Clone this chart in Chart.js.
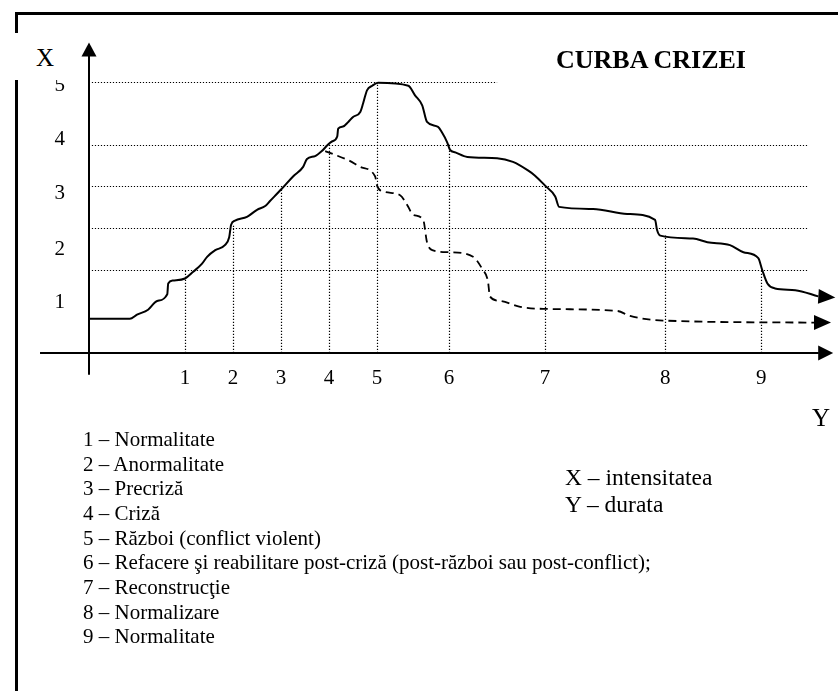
<!DOCTYPE html>
<html>
<head>
<meta charset="utf-8">
<script src="https://cdn.jsdelivr.net/npm/chart.js@4.4.1/dist/chart.umd.min.js"></script>
<style>
  body { margin: 0; background: #fff; }
  #wrap { position: relative; width: 838px; height: 691px; overflow: hidden; background: #fff;
          font-family: "Liberation Serif", "Times New Roman", serif; color: #000; }
  #frame { position: absolute; left: 15px; top: 12px; width: 840px; height: 700px;
           border-top: 3px solid #000; border-left: 3px solid #000; }
  canvas { position: absolute; left: 0; top: 0; }
  .txt { position: absolute; white-space: nowrap; }
  #xbox { left: 14px; top: 33px; width: 66px; height: 47px; background: #fff; }
  #xbox span { position: absolute; left: 22px; top: 12px; font-size: 25px; line-height: 25px; }
  #ylab { left: 812px; top: 405px; font-size: 25px; line-height: 25px; }
  #title { left: 556px; top: 47px; font-size: 26px; line-height: 26px; font-weight: bold; }
  #legend { left: 83px; top: 427px; font-size: 21px; line-height: 24.65px; }
  #axisNote { left: 565px; top: 464px; font-size: 23.5px; line-height: 27px; }
</style>
</head>
<body>
<div id="wrap">
  <div id="frame"></div>
  <canvas id="crisisChart" width="838" height="691"></canvas>
  <div id="xbox" class="txt"><span>X</span></div>
  <div id="ylab" class="txt">Y</div>
  <div id="title" class="txt">CURBA CRIZEI</div>
  <div id="legend" class="txt"></div>
  <div id="axisNote" class="txt"></div>
</div>
<script>
// Phase ticks on the duration axis (Y - durata)
const phaseTicks = [2, 3, 4, 5, 6, 7.5, 9.5, 12, 14];
const phaseLabels = ['1', '2', '3', '4', '5', '6', '7', '8', '9'];
const phaseDropTops = [2.0, 3.08, 3.95, 5.0, 6.5, 5.0, 4.0, 2.82, 2.0];

// Intensity axis (X - intensitatea)
const levelTicks = [1.21, 2.49, 3.83, 5.13, 6.42];
const levelLabels = ['1', '2', '3', '4', '5'];
const gridLevels = [2, 3, 4, 5, 6.5];
const gridEnds = [14.96, 14.96, 14.96, 14.96, 8.5];

// Main crisis curve (solid)
const crisisX = [0, 0.85, 1.0, 1.23, 1.42, 1.63, 1.65, 1.75, 2.0, 2.17, 2.35, 2.46, 2.63, 2.83, 2.92, 2.96,
  3.04, 3.29, 3.5, 3.67, 3.77, 4.02, 4.25, 4.46, 4.54, 4.71, 4.85, 4.98, 5.06, 5.17, 5.19, 5.29, 5.4, 5.5,
  5.65, 5.71, 5.79, 5.9, 6.02, 6.65, 6.79, 6.94, 7.04, 7.27, 7.35, 7.46, 7.52, 7.63, 7.88, 8.5, 8.83, 9.15,
  9.29, 9.5, 9.71, 9.79, 10.5, 11.21, 11.79, 11.83, 11.9, 12.58, 12.88, 13.35, 13.63, 13.94, 14.02, 14.13,
  14.29, 14.71, 15.19];
const crisisY = [0.82, 0.82, 0.92, 1.04, 1.25, 1.41, 1.67, 1.74, 1.79, 1.95, 2.14, 2.31, 2.47, 2.59, 2.78, 3.08,
  3.18, 3.27, 3.44, 3.53, 3.65, 3.95, 4.24, 4.47, 4.66, 4.73, 4.85, 5.01, 5.08, 5.2, 5.39, 5.44, 5.55, 5.67,
  5.79, 6.0, 6.31, 6.42, 6.49, 6.42, 6.19, 5.95, 5.55, 5.43, 5.3, 5.06, 4.88, 4.82, 4.71, 4.68, 4.59, 4.38,
  4.26, 4.02, 3.76, 3.51, 3.46, 3.34, 3.2, 2.96, 2.82, 2.75, 2.66, 2.59, 2.42, 2.28, 2.0, 1.67,
  1.55, 1.51, 1.36];

// Alternative path after the crisis (dashed)
const earlyX = [4.92, 5.08, 5.44, 5.65, 5.96, 6.0, 6.13, 6.48, 6.63, 6.75, 6.96, 7.04, 7.15, 7.52, 8.0, 8.19,
  8.31, 8.35, 8.56, 8.98, 9.46, 11.0, 11.27, 11.96, 15.1];
const earlyY = [4.85, 4.78, 4.61, 4.47, 4.24, 4.02, 3.88, 3.79, 3.55, 3.32, 3.2, 2.66, 2.47, 2.42, 2.31, 2.02,
  1.72, 1.36, 1.25, 1.11, 1.06, 1.01, 0.89, 0.78, 0.73];

const stageNames = ['Normalitate', 'Anormalitate', 'Precriză', 'Criză', 'Război (conflict violent)',
  'Refacere şi reabilitare post-criză (post-război sau post-conflict);', 'Reconstrucţie',
  'Normalizare', 'Normalitate'];
const axisNotes = ['X – intensitatea', 'Y – durata'];

document.getElementById('legend').innerHTML =
  stageNames.map((s, i) => (i + 1) + ' – ' + s).join('<br>');
document.getElementById('axisNote').innerHTML = axisNotes.join('<br>');

const serif = '"Liberation Serif", "Times New Roman", serif';

function arrowHead(ctx, x0, y0, x1, y1, len, half) {
    const a = Math.atan2(y1 - y0, x1 - x0);
    ctx.beginPath();
    ctx.moveTo(x1, y1);
    ctx.lineTo(x1 - len * Math.cos(a) + half * Math.sin(a), y1 - len * Math.sin(a) - half * Math.cos(a));
    ctx.lineTo(x1 - len * Math.cos(a) - half * Math.sin(a), y1 - len * Math.sin(a) + half * Math.cos(a));
    ctx.closePath();
    ctx.fill();
}

const guides = {
    id: 'guides',
    beforeDatasetsDraw(chart) {
        const { ctx, scales: { x, y } } = chart;
        ctx.save();
        ctx.strokeStyle = '#000';
        ctx.lineWidth = 1.2;
        ctx.setLineDash([1.2, 1.8]);
        gridLevels.forEach((v, i) => {
            const py = Math.round(y.getPixelForValue(v)) + 0.5;
            ctx.beginPath();
            ctx.moveTo(x.getPixelForValue(0.06), py);
            ctx.lineTo(x.getPixelForValue(gridEnds[i]), py);
            ctx.stroke();
        });
        phaseTicks.forEach((v, i) => {
            const px = Math.round(x.getPixelForValue(v)) + 0.5;
            ctx.beginPath();
            ctx.moveTo(px, y.getPixelForValue(0));
            ctx.lineTo(px, y.getPixelForValue(phaseDropTops[i]));
            ctx.stroke();
        });
        ctx.restore();
    },
    afterDatasetsDraw(chart) {
        const { ctx, scales: { x, y } } = chart;
        ctx.save();
        ctx.strokeStyle = '#000';
        ctx.fillStyle = '#000';
        ctx.lineWidth = 2;
        // duration axis
        const ay = y.getPixelForValue(0);
        ctx.beginPath();
        ctx.moveTo(x.getPixelForValue(-1.02), ay);
        ctx.lineTo(x.getPixelForValue(15.2), ay);
        ctx.stroke();
        arrowHead(ctx, x.getPixelForValue(15), ay, x.getPixelForValue(15.5), ay, 15, 7.5);
        // intensity axis
        const ax = x.getPixelForValue(0);
        ctx.beginPath();
        ctx.moveTo(ax, y.getPixelForValue(-0.52));
        ctx.lineTo(ax, y.getPixelForValue(7.2));
        ctx.stroke();
        arrowHead(ctx, ax, y.getPixelForValue(7), ax, y.getPixelForValue(7.46), 14, 7.5);
        // curve ends
        const n = crisisX.length;
        const bx = x.getPixelForValue(crisisX[n - 1]), by = y.getPixelForValue(crisisY[n - 1]);
        arrowHead(ctx, bx, by, bx + 17, by + 1, 17, 7.5);
        const m = earlyX.length;
        const ex = x.getPixelForValue(earlyX[m - 1]), ey = y.getPixelForValue(earlyY[m - 1]);
        arrowHead(ctx, ex, ey, ex + 17, ey, 17, 7.5);
        ctx.restore();
    }
};

new Chart(document.getElementById('crisisChart'), {
    type: 'line',
    data: {
        datasets: [{
            data: crisisX.map((v, i) => ({ x: v, y: crisisY[i] })),
            borderColor: '#000',
            borderWidth: 2,
            pointRadius: 0,
            cubicInterpolationMode: 'monotone',
            fill: false
        }, {
            data: earlyX.map((v, i) => ({ x: v, y: earlyY[i] })),
            borderColor: '#000',
            borderWidth: 1.8,
            borderDash: [8, 5],
            pointRadius: 0,
            cubicInterpolationMode: 'monotone',
            fill: false
        }]
    },
    options: {
        responsive: false,
        animation: false,
        layout: { padding: { top: 30, left: 0, right: 0, bottom: 0 } },
        plugins: {
            legend: { display: false },
            tooltip: { enabled: false }
        },
        scales: {
            x: {
                type: 'linear',
                position: 'bottom',
                min: 0,
                max: 15.6,
                afterFit: s => { s.height = 338; },
                afterBuildTicks: s => { s.ticks = phaseTicks.map(v => ({ value: v })); },
                grid: { display: false, drawTicks: false },
                border: { display: false },
                ticks: {
                    autoSkip: false,
                    maxRotation: 0,
                    padding: 13,
                    color: '#000',
                    font: { family: serif, size: 21 },
                    callback: v => phaseLabels[phaseTicks.indexOf(v)]
                }
            },
            y: {
                type: 'linear',
                position: 'left',
                min: 0,
                max: 7.6,
                afterFit: s => { s.width = 89; },
                afterBuildTicks: s => { s.ticks = levelTicks.map(v => ({ value: v })); },
                grid: { display: false, drawTicks: false },
                border: { display: false },
                ticks: {
                    autoSkip: false,
                    padding: 24,
                    color: '#000',
                    font: { family: serif, size: 21 },
                    callback: v => levelLabels[levelTicks.indexOf(v)]
                }
            }
        }
    },
    plugins: [guides]
});
</script>
</body>
</html>
